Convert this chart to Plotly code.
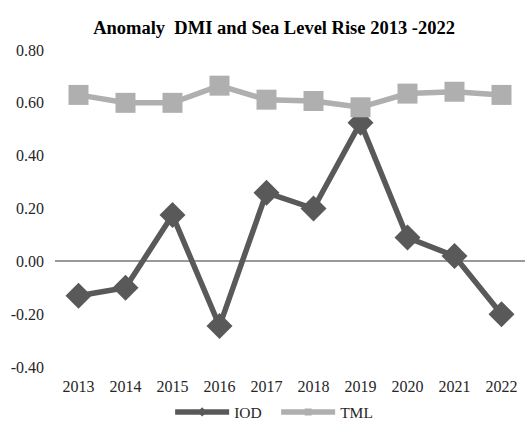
import plotly.graph_objects as go

years = ["2013", "2014", "2015", "2016", "2017", "2018", "2019", "2020", "2021", "2022"]
iod = [-0.13, -0.10, 0.175, -0.245, 0.26, 0.20, 0.525, 0.09, 0.02, -0.20]
tml = [0.63, 0.60, 0.60, 0.665, 0.612, 0.607, 0.583, 0.635, 0.642, 0.63]
yticks = [-0.4, -0.2, 0.0, 0.2, 0.4, 0.6, 0.8]
ytext = ["-0.40", "-0.20", "0.00", "0.20", "0.40", "0.60", "0.80"]

font = "Liberation Serif, Times New Roman, serif"
c_iod = "#595959"
c_tml = "#afafaf"

fig = go.Figure()
fig.add_trace(go.Scatter(x=years, y=iod, name="IOD", mode="lines+markers", showlegend=False,
                         line=dict(color=c_iod, width=5.5),
                         marker=dict(symbol="diamond", size=20, color=c_iod)))
fig.add_trace(go.Scatter(x=years, y=tml, name="TML", mode="lines+markers", showlegend=False,
                         line=dict(color=c_tml, width=5.5),
                         marker=dict(symbol="square", size=20, color=c_tml)))
# legend entries (small markers as in the reference legend)
fig.add_trace(go.Scatter(x=[None], y=[None], name="IOD", mode="lines+markers",
                         line=dict(color=c_iod, width=5.5),
                         marker=dict(symbol="diamond", size=7, color=c_iod)))
fig.add_trace(go.Scatter(x=[None], y=[None], name="TML", mode="lines+markers",
                         line=dict(color=c_tml, width=5.5),
                         marker=dict(symbol="square", size=7, color=c_tml)))

fig.update_layout(
    width=525, height=421,
    margin=dict(l=55, r=0, t=50, b=54, autoexpand=False),
    paper_bgcolor="white", plot_bgcolor="white",
    font=dict(family=font, size=16, color="#262626"),
    title=dict(text="<b>Anomaly\u00a0 DMI and Sea Level Rise 2013 -2022</b>",
               x=0.522, xanchor="center", y=1 - 28 / 421, yref="container", yanchor="middle",
               font=dict(family=font, size=18.5, color="#000000")),
    xaxis=dict(type="category", range=[-0.5, 9.5], showgrid=False, showline=False, ticks="",
               automargin=False, ticklabelstandoff=8, tickfont=dict(family=font, size=16)),
    yaxis=dict(range=[-0.4, 0.8], tickvals=yticks, ticktext=ytext,
               showgrid=False, zeroline=True, zerolinecolor="#999999", zerolinewidth=1.5,
               ticks="", showline=False, automargin=False, ticklabelstandoff=10,
               tickfont=dict(family=font, size=16)),
    showlegend=True,
    legend=dict(orientation="h", x=0.245, xanchor="left", y=-0.143, yanchor="middle",
                itemwidth=54, entrywidth=37, font=dict(family=font, size=15.5)),
)

fig.write_html("out.html", config={"displayModeBar": False},
               post_script="document.body.style.margin='0';")
